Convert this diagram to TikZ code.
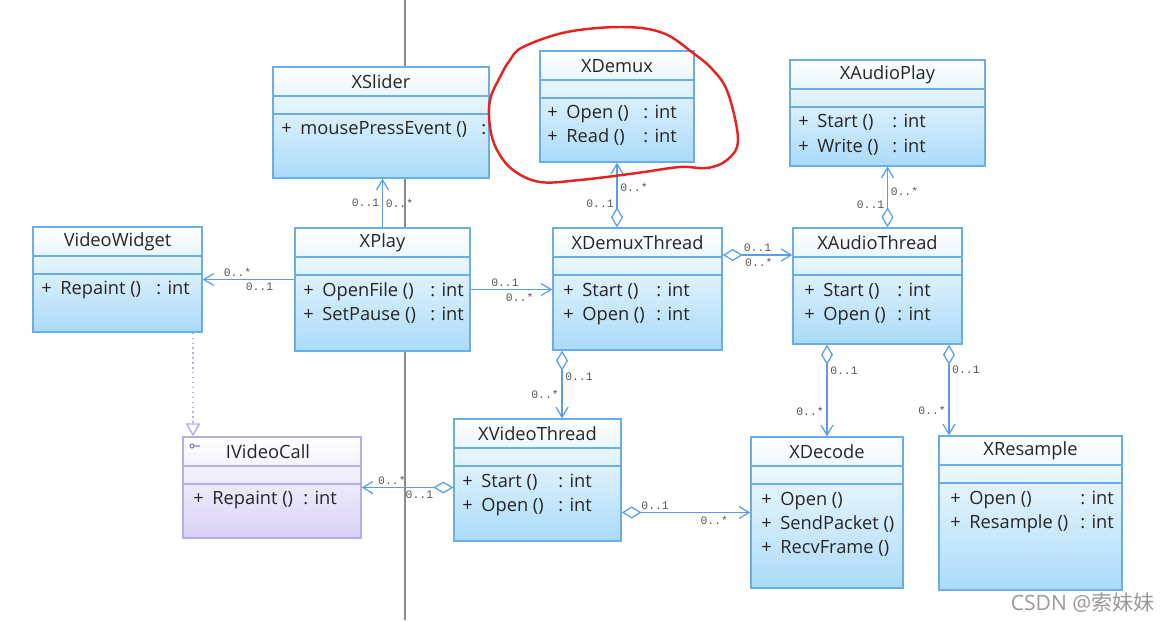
\documentclass[tikz,border=0pt]{standalone}
\usepackage{fontspec}
\setmainfont{Open Sans}
\setmonofont{Liberation Mono}
\newfontfamily\cjk{Noto Sans CJK SC}
\usepackage{tikz}
\usetikzlibrary{calc}
\usetikzlibrary{arrows.meta}

\definecolor{clsline}{HTML}{6AAEE8}
\definecolor{clsfill}{HTML}{AADBF9}
\definecolor{ifline}{HTML}{B6ACE6}
\definecolor{iffill}{HTML}{DAD2F7}
\definecolor{wire}{HTML}{5A9CE8}
\definecolor{lblgray}{HTML}{555555}
\definecolor{inkred}{HTML}{E52222}

% box: [style]{name}{x1}{y1}{x2}{y2}{title}
\newcommand{\umlclass}[7][cls]{%
  \pgfmathsetmacro\bw{(#5-#3)*0.02}%
  \pgfmathsetmacro\bh{(#6-#4)*0.02}%
  \node[#1, minimum width=\bw cm, minimum height=\bh cm] (#2) at ({(#3+#5)/2},{(#4+#6)/2}) {};
  \draw[#1 sep] (#3,#4+29) -- (#5,#4+29);
  \draw[#1 sep] (#3,#4+47) -- (#5,#4+47);
  \node[title] (#2-name) at ({(#3+#5)/2},#4+15) {#7};
}
% operation row: {name}{x of +}{y}{text}{x of type}{type}
\newcommand{\umlop}[6]{%
  \node[op] (#1-p) at (#2,#3) {+};
  \node[op] (#1-n) at (#2+19,#3) {#4};
  \if\relax\detokenize{#6}\relax\else
  \node[op] (#1-t) at (#5,#3) {#6};
  \fi
}

\begin{document}
\begin{tikzpicture}[x=0.02cm,y=-0.02cm,
  cls/.style={draw=clsline,line width=0.8pt,top color=white,bottom color=clsfill,inner sep=0pt},
  cls sep/.style={draw=clsline,line width=0.8pt},
  iface/.style={draw=ifline,line width=0.8pt,top color=white,bottom color=iffill,inner sep=0pt},
  iface sep/.style={draw=ifline,line width=0.8pt},
  title/.style={font=\fontsize{10.4}{12}\selectfont,text=black!85,inner sep=0pt},
  op/.style={anchor=west,font=\fontsize{10.4}{12}\selectfont,text=black!85,inner sep=0pt,text height=1.5ex,text depth=.3ex},
  lbl/.style={font=\ttfamily\fontsize{6.5}{7.5}\selectfont,text=lblgray,inner sep=1.5pt},
  assoc/.style={draw=wire,line width=0.7pt,-{Straight Barb[length=0.2cm,width=0.24cm]}},
  agg/.style={draw=wire,line width=0.7pt,{Diamond[length=0.4cm,width=0.24cm,fill=white]}-{Straight Barb[length=0.2cm,width=0.24cm]}},
  realize/.style={draw=ifline,line width=0.8pt,dotted,-{Triangle[open,length=0.26cm,width=0.3cm]}}]
  \useasboundingbox (0,0) rectangle (1171,620);
  \draw[black!45,line width=1.2pt] (405,0) -- (405,620);

  \umlclass{xslider}{273}{67}{489}{178}{XSlider}
  \umlop{xslider1}{281}{129}{mousePressEvent ()}{481}{:}

  \umlclass{xdemux}{540}{51}{694}{162}{XDemux}
  \umlop{xdemux1}{547}{113}{Open ()}{643}{: int}
  \umlop{xdemux2}{547}{137}{Read ()}{643}{: int}

  \umlclass{xaudioplay}{790}{60}{985}{166}{XAudioPlay}
  \umlop{xaudioplay1}{798}{122}{Start ()}{892}{: int}
  \umlop{xaudioplay2}{798}{147}{Write ()}{892}{: int}

  \umlclass{videowidget}{33}{227}{202}{332}{VideoWidget}
  \umlop{videowidget1}{41}{289}{Repaint ()}{156}{: int}

  \umlclass{xplay}{295}{228}{470}{351}{XPlay}
  \umlop{xplay1}{303}{291}{OpenFile ()}{430}{: int}
  \umlop{xplay2}{303}{315}{SetPause ()}{430}{: int}

  \umlclass{xdemuxthread}{553}{228}{722}{350}{XDemuxThread}
  \umlop{xdemuxthread1}{563}{291}{Start ()}{656}{: int}
  \umlop{xdemuxthread2}{563}{315}{Open ()}{656}{: int}

  \umlclass{xaudiothread}{793}{228}{962}{344}{XAudioThread}
  \umlop{xaudiothread1}{804}{291}{Start ()}{897}{: int}
  \umlop{xaudiothread2}{804}{315}{Open ()}{897}{: int}

  \umlclass[iface]{ivideocall}{183}{437}{361}{538}{\hspace*{-0.16cm}IVideoCall}
  \umlop{ivideocall1}{193}{499}{Repaint ()}{303}{: int}
  \draw[ifline!70!blue,line width=0.6pt] (192,446) circle[radius=2] (194,446) -- (200,446);

  \umlclass{xvideothread}{454}{419}{621}{541}{XVideoThread}
  \umlop{xvideothread1}{462}{482}{Start ()}{558}{: int}
  \umlop{xvideothread2}{462}{506}{Open ()}{558}{: int}

  \umlclass{xdecode}{751}{437}{903}{588}{XDecode}
  \umlop{xdecode1}{761}{500}{Open ()}{}{}
  \umlop{xdecode2}{761}{524}{SendPacket ()}{}{}
  \umlop{xdecode3}{761}{548}{RecvFrame ()}{}{}

  \umlclass{xresample}{939}{436}{1122}{590}{XResample}
  \umlop{xresample1}{950}{499}{Open ()}{1080}{: int}
  \umlop{xresample2}{950}{523}{Resample ()}{1080}{: int}

  \draw[assoc] (xplay.north) -- (xplay.north |- xslider.south)
    node[lbl,pos=.5,left] {0..1} node[lbl,pos=.5,right] {0..*};
  \draw[assoc] (xplay.west |- videowidget.east) -- (videowidget.east)
    node[lbl,pos=.62,above] {0..*} node[lbl,pos=.38,below] {0..1};
  \draw[assoc] (xplay.east) -- (xplay.east -| xdemuxthread.west)
    node[lbl,pos=.42,above] {0..1} node[lbl,pos=.6,below] {0..*};
  \draw[agg] (xdemuxthread.north -| xdemux.south) -- (xdemux.south)
    node[lbl,pos=.62,right] {0..*} node[lbl,pos=.36,left] {0..1};
  \draw[agg] ([yshift=.68cm]xdemuxthread.east) -- ([yshift=.68cm]xdemuxthread.east -| xaudiothread.west)
    node[lbl,pos=.5,above] {0..1} node[lbl,pos=.52,below] {0..*};
  \draw[agg] (xaudioplay.south |- xaudiothread.north) -- (xaudioplay.south)
    node[lbl,pos=.6,right] {0..*} node[lbl,pos=.38,left] {0..1};
  \draw[agg] ([xshift=-1.51cm]xdemuxthread.south) -- ([xshift=-1.51cm]xdemuxthread.south |- xvideothread.north)
    node[lbl,pos=.38,right] {0..1} node[lbl,pos=.64,left] {0..*};
  \draw[agg] (xvideothread.west |- ivideocall.east) -- (ivideocall.east)
    node[lbl,pos=.67,above] {0..*} node[lbl,pos=.37,below] {0..1};
  \draw[agg] (xvideothread.east |- xdecode.west) -- (xdecode.west)
    node[lbl,pos=.26,above] {0..1} node[lbl,pos=.72,below] {0..*};
  \draw[agg] (xdecode.north |- xaudiothread.south) -- (xdecode.north)
    node[lbl,pos=.28,right] {0..1} node[lbl,pos=.73,left] {0..*};
  \draw[agg] ([xshift=1.43cm]xaudiothread.south) -- ([xshift=1.43cm]xaudiothread.south |- xresample.north)
    node[lbl,pos=.28,right] {0..1} node[lbl,pos=.73,left] {0..*};
  \draw[realize] ([xshift=1.51cm]videowidget.south) -- ([xshift=1.51cm]videowidget.south |- ivideocall.north);

  \draw[inkred,line width=1.4pt] plot[smooth cycle,tension=.6] coordinates {
    (523,47) (567,32) (623,27) (663,33) (693,53) (713,70) (728,93) (738,140)
    (727,160) (707,168) (680,167) (637,173) (580,180) (540,182) (513,170)
    (497,150) (490,127) (490,100) (500,77) (510,60)};

  \node[text=black!40,font=\fontsize{12}{14}\selectfont,anchor=east,inner sep=0pt] (mark) at (1155,603) {CSDN @{\cjk 索妹妹}};
\end{tikzpicture}
\end{document}
